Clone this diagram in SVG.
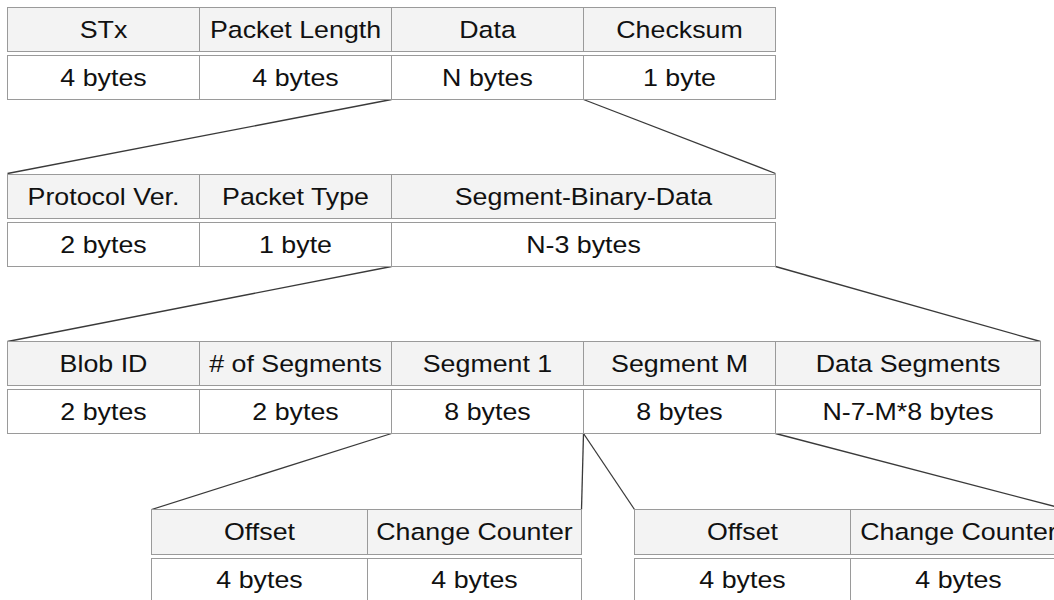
<svg xmlns="http://www.w3.org/2000/svg" width="1054" height="600" viewBox="0 0 1054 600">
<style>
.h{fill:#f3f3f3;stroke:#9a9a9a;stroke-width:1}
.v{fill:#ffffff;stroke:#9a9a9a;stroke-width:1}
.t{font-family:"Liberation Sans",Arial,sans-serif;font-size:23.5px;fill:#111;text-anchor:middle}
.c{stroke:#3a3a3a;stroke-width:1.3;fill:none}
</style>
<rect width="1054" height="600" fill="#ffffff"/>
<g id="connectors">
<line class="c" x1="391.5" y1="99.5" x2="7.5" y2="173.5"/>
<line class="c" x1="583.5" y1="99.5" x2="775.5" y2="173.5"/>
<line class="c" x1="391.5" y1="266.5" x2="7.5" y2="341.5"/>
<line class="c" x1="775.5" y1="266.5" x2="1040.5" y2="341.5"/>
<line class="c" x1="391.5" y1="433.5" x2="151.5" y2="509.5"/>
<line class="c" x1="583.5" y1="433.5" x2="581.5" y2="509.5"/>
<line class="c" x1="583.5" y1="433.5" x2="634.5" y2="509.5"/>
<line class="c" x1="775.5" y1="433.5" x2="1066.5" y2="509.5"/>
</g>
<g id="row1">
<g id="stx"><rect class="h" x="7.5" y="7.5" width="192" height="44"/><rect class="v" x="7.5" y="55.5" width="192" height="44"/>
<text class="t" transform="translate(103.5,37.5) scale(1.14,1)">STx</text><text class="t" transform="translate(103.5,85.5) scale(1.14,1)">4 bytes</text></g>
<g id="packet-length"><rect class="h" x="199.5" y="7.5" width="192" height="44"/><rect class="v" x="199.5" y="55.5" width="192" height="44"/>
<text class="t" transform="translate(295.5,37.5) scale(1.14,1)">Packet Length</text><text class="t" transform="translate(295.5,85.5) scale(1.14,1)">4 bytes</text></g>
<g id="data"><rect class="h" x="391.5" y="7.5" width="192" height="44"/><rect class="v" x="391.5" y="55.5" width="192" height="44"/>
<text class="t" transform="translate(487.5,37.5) scale(1.14,1)">Data</text><text class="t" transform="translate(487.5,85.5) scale(1.14,1)">N bytes</text></g>
<g id="checksum"><rect class="h" x="583.5" y="7.5" width="192" height="44"/><rect class="v" x="583.5" y="55.5" width="192" height="44"/>
<text class="t" transform="translate(679.5,37.5) scale(1.14,1)">Checksum</text><text class="t" transform="translate(679.5,85.5) scale(1.14,1)">1 byte</text></g>
</g>
<g id="row2">
<g id="protocol-ver"><rect class="h" x="7.5" y="174.5" width="192" height="44"/><rect class="v" x="7.5" y="222.5" width="192" height="44"/>
<text class="t" transform="translate(103.5,204.5) scale(1.14,1)">Protocol Ver.</text><text class="t" transform="translate(103.5,252.5) scale(1.14,1)">2 bytes</text></g>
<g id="packet-type"><rect class="h" x="199.5" y="174.5" width="192" height="44"/><rect class="v" x="199.5" y="222.5" width="192" height="44"/>
<text class="t" transform="translate(295.5,204.5) scale(1.14,1)">Packet Type</text><text class="t" transform="translate(295.5,252.5) scale(1.14,1)">1 byte</text></g>
<g id="segment-binary-data"><rect class="h" x="391.5" y="174.5" width="384" height="44"/><rect class="v" x="391.5" y="222.5" width="384" height="44"/>
<text class="t" transform="translate(583.5,204.5) scale(1.14,1)">Segment-Binary-Data</text><text class="t" transform="translate(583.5,252.5) scale(1.14,1)">N-3 bytes</text></g>
</g>
<g id="row3">
<g id="blob-id"><rect class="h" x="7.5" y="341.5" width="192" height="44"/><rect class="v" x="7.5" y="389.5" width="192" height="44"/>
<text class="t" transform="translate(103.5,371.5) scale(1.14,1)">Blob ID</text><text class="t" transform="translate(103.5,419.5) scale(1.14,1)">2 bytes</text></g>
<g id="num-segments"><rect class="h" x="199.5" y="341.5" width="192" height="44"/><rect class="v" x="199.5" y="389.5" width="192" height="44"/>
<text class="t" transform="translate(295.5,371.5) scale(1.14,1)"># of Segments</text><text class="t" transform="translate(295.5,419.5) scale(1.14,1)">2 bytes</text></g>
<g id="segment-1"><rect class="h" x="391.5" y="341.5" width="192" height="44"/><rect class="v" x="391.5" y="389.5" width="192" height="44"/>
<text class="t" transform="translate(487.5,371.5) scale(1.14,1)">Segment 1</text><text class="t" transform="translate(487.5,419.5) scale(1.14,1)">8 bytes</text></g>
<g id="segment-m"><rect class="h" x="583.5" y="341.5" width="192" height="44"/><rect class="v" x="583.5" y="389.5" width="192" height="44"/>
<text class="t" transform="translate(679.5,371.5) scale(1.14,1)">Segment M</text><text class="t" transform="translate(679.5,419.5) scale(1.14,1)">8 bytes</text></g>
<g id="data-segments"><rect class="h" x="775.5" y="341.5" width="265" height="44"/><rect class="v" x="775.5" y="389.5" width="265" height="44"/>
<text class="t" transform="translate(908,371.5) scale(1.14,1)">Data Segments</text><text class="t" transform="translate(908,419.5) scale(1.14,1)">N-7-M*8 bytes</text></g>
</g>
<g id="row4-left">
<g id="offset-1"><rect class="h" x="151.5" y="509.5" width="216" height="45"/><rect class="v" x="151.5" y="558.5" width="216" height="45"/>
<text class="t" transform="translate(259.5,540) scale(1.14,1)">Offset</text><text class="t" transform="translate(259.5,588) scale(1.14,1)">4 bytes</text></g>
<g id="change-counter-1"><rect class="h" x="367.5" y="509.5" width="214" height="45"/><rect class="v" x="367.5" y="558.5" width="214" height="45"/>
<text class="t" transform="translate(474.5,540) scale(1.14,1)">Change Counter</text><text class="t" transform="translate(474.5,588) scale(1.14,1)">4 bytes</text></g>
</g>
<g id="row4-right">
<g id="offset-m"><rect class="h" x="634.5" y="509.5" width="216" height="45"/><rect class="v" x="634.5" y="558.5" width="216" height="45"/>
<text class="t" transform="translate(742.5,540) scale(1.14,1)">Offset</text><text class="t" transform="translate(742.5,588) scale(1.14,1)">4 bytes</text></g>
<g id="change-counter-m"><rect class="h" x="850.5" y="509.5" width="216" height="45"/><rect class="v" x="850.5" y="558.5" width="216" height="45"/>
<text class="t" transform="translate(958.5,540) scale(1.14,1)">Change Counter</text><text class="t" transform="translate(958.5,588) scale(1.14,1)">4 bytes</text></g>
</g>
</svg>
